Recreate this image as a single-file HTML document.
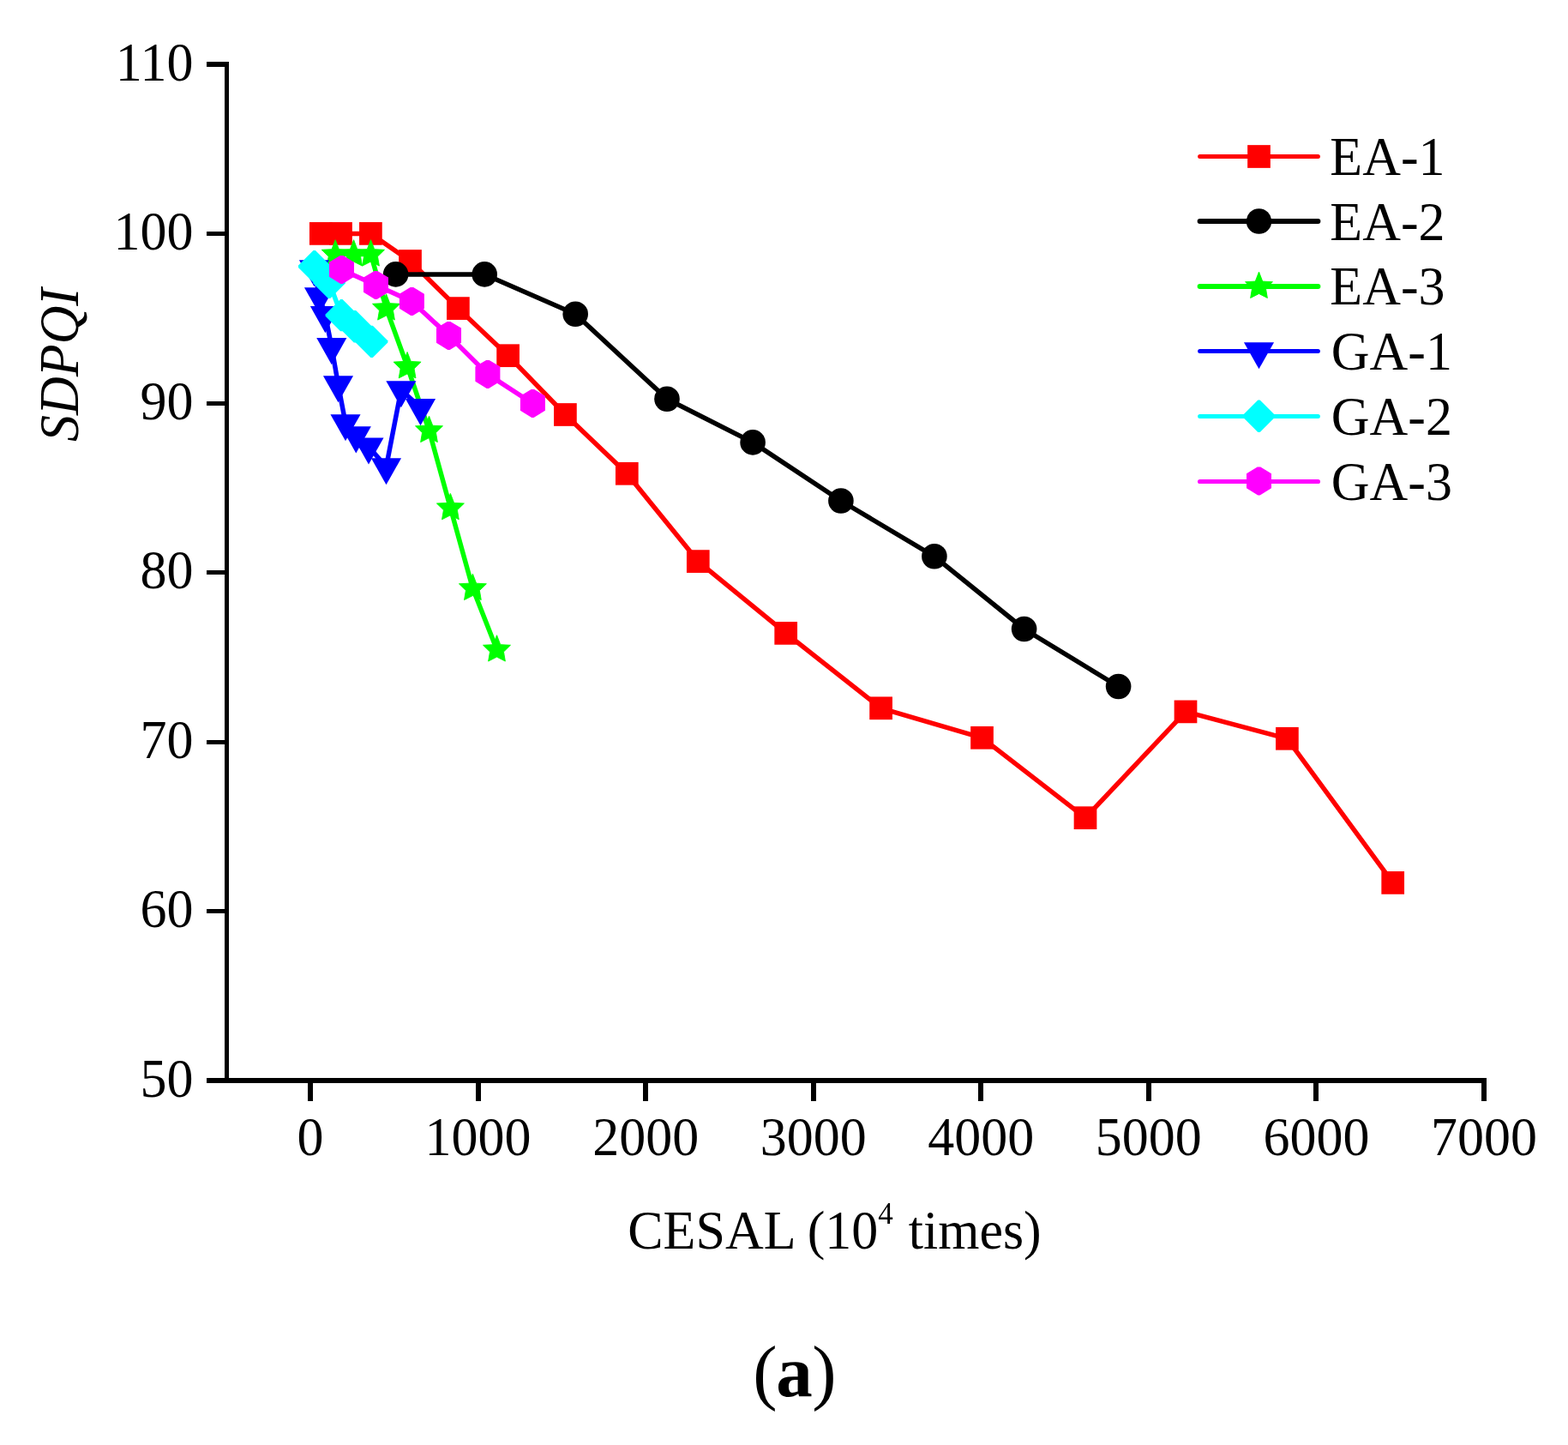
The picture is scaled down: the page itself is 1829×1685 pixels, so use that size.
<!DOCTYPE html>
<html><head><meta charset="utf-8"><title>SDPQI vs CESAL</title>
<style>html,body{margin:0;padding:0;background:#fff;}body{width:1829px;height:1685px;overflow:hidden;}svg{display:block;}</style>
</head><body>
<svg width="1829" height="1685" viewBox="0 0 1829 1685">
<rect width="1829" height="1685" fill="#fff"/>
<g fill="#000">
<rect x="262" y="72" width="5" height="1191"/>
<rect x="241" y="1257" width="1493" height="6"/>
<rect x="241" y="72" width="21" height="6"/>
<rect x="241" y="270" width="21" height="5"/>
<rect x="241" y="468" width="21" height="5"/>
<rect x="241" y="665" width="21" height="5"/>
<rect x="241" y="863" width="21" height="5"/>
<rect x="241" y="1060" width="21" height="5"/>
<rect x="359" y="1263" width="6" height="21"/>
<rect x="555" y="1263" width="6" height="21"/>
<rect x="750" y="1263" width="6" height="21"/>
<rect x="946" y="1263" width="6" height="21"/>
<rect x="1141" y="1263" width="6" height="21"/>
<rect x="1337" y="1263" width="6" height="21"/>
<rect x="1532" y="1263" width="6" height="21"/>
<rect x="1728" y="1263" width="6" height="21"/>
</g>
<g font-family="'Liberation Serif','Times New Roman',serif" font-size="62" fill="#000">
<text transform="translate(225.5,93.5) scale(1,1.035)" text-anchor="end">110</text>
<text transform="translate(225.5,291) scale(1,1.035)" text-anchor="end">100</text>
<text transform="translate(225.5,488.5) scale(1,1.035)" text-anchor="end">90</text>
<text transform="translate(225.5,686) scale(1,1.035)" text-anchor="end">80</text>
<text transform="translate(225.5,883.5) scale(1,1.035)" text-anchor="end">70</text>
<text transform="translate(225.5,1081) scale(1,1.035)" text-anchor="end">60</text>
<text transform="translate(225.5,1278.5) scale(1,1.035)" text-anchor="end">50</text>
<text transform="translate(362,1347) scale(1,1.035)" text-anchor="middle">0</text>
<text transform="translate(557.57,1347) scale(1,1.035)" text-anchor="middle">1000</text>
<text transform="translate(753.14,1347) scale(1,1.035)" text-anchor="middle">2000</text>
<text transform="translate(948.71,1347) scale(1,1.035)" text-anchor="middle">3000</text>
<text transform="translate(1144.28,1347) scale(1,1.035)" text-anchor="middle">4000</text>
<text transform="translate(1339.85,1347) scale(1,1.035)" text-anchor="middle">5000</text>
<text transform="translate(1535.42,1347) scale(1,1.035)" text-anchor="middle">6000</text>
<text transform="translate(1730.99,1347) scale(1,1.035)" text-anchor="middle">7000</text>
<text transform="translate(732.2,1456.1) scale(1,1.035)">CESAL (10<tspan font-size="35" dy="-28.6">4</tspan><tspan dx="2.5" dy="28.6"> times)</tspan></text>
<text transform="translate(90.7,425.5) rotate(-90) scale(1,1.05)" text-anchor="middle" font-style="italic">SDPQI</text>
<text y="1628" font-size="85"><tspan x="878.2">(</tspan><tspan x="905.2" font-weight="bold">a</tspan><tspan x="947.2">)</tspan></text>
<text transform="translate(1551.3,204) scale(1,1.035)">EA-1</text>
<text transform="translate(1551.3,279.5) scale(1,1.035)">EA-2</text>
<text transform="translate(1551.3,355.4) scale(1,1.035)">EA-3</text>
<text transform="translate(1552.8,431) scale(1,1.035)">GA-1</text>
<text transform="translate(1552.8,506.8) scale(1,1.035)">GA-2</text>
<text transform="translate(1552.8,582.5) scale(1,1.035)">GA-3</text>
</g>
<polyline points="374.3,272.4 397.5,272.4 432.4,272.4 478.5,304.5 534.4,359.6 592.6,414.7 659.4,483.5 731.3,552.3 814.3,654.6 916.7,738.4 1027.6,825.8 1145.5,860.3 1266,953.7 1383,829.9 1501.4,861.3 1624.7,1029.4" fill="none" stroke="#ff0000" stroke-width="5.5" stroke-linejoin="round" stroke-linecap="round"/>
<rect x="360.95" y="259.05" width="26.7" height="26.7" fill="#ff0000"/><rect x="384.15" y="259.05" width="26.7" height="26.7" fill="#ff0000"/><rect x="419.05" y="259.05" width="26.7" height="26.7" fill="#ff0000"/><rect x="465.15" y="291.15" width="26.7" height="26.7" fill="#ff0000"/><rect x="521.05" y="346.25" width="26.7" height="26.7" fill="#ff0000"/><rect x="579.25" y="401.35" width="26.7" height="26.7" fill="#ff0000"/><rect x="646.05" y="470.15" width="26.7" height="26.7" fill="#ff0000"/><rect x="717.95" y="538.95" width="26.7" height="26.7" fill="#ff0000"/><rect x="800.95" y="641.25" width="26.7" height="26.7" fill="#ff0000"/><rect x="903.35" y="725.05" width="26.7" height="26.7" fill="#ff0000"/><rect x="1014.25" y="812.45" width="26.7" height="26.7" fill="#ff0000"/><rect x="1132.15" y="846.95" width="26.7" height="26.7" fill="#ff0000"/><rect x="1252.65" y="940.35" width="26.7" height="26.7" fill="#ff0000"/><rect x="1369.65" y="816.55" width="26.7" height="26.7" fill="#ff0000"/><rect x="1488.05" y="847.95" width="26.7" height="26.7" fill="#ff0000"/><rect x="1611.35" y="1016.05" width="26.7" height="26.7" fill="#ff0000"/>
<polyline points="461.6,319.9 565.2,319.9 671.2,366.2 778,465.2 878.1,515.9 980.9,584 1089.9,648.8 1194.6,733.5 1304.6,800.5" fill="none" stroke="#000000" stroke-width="5.5" stroke-linejoin="round" stroke-linecap="round"/>
<circle cx="461.6" cy="319.9" r="14.8" fill="#000000"/><circle cx="565.2" cy="319.9" r="14.8" fill="#000000"/><circle cx="671.2" cy="366.2" r="14.8" fill="#000000"/><circle cx="778" cy="465.2" r="14.8" fill="#000000"/><circle cx="878.1" cy="515.9" r="14.8" fill="#000000"/><circle cx="980.9" cy="584" r="14.8" fill="#000000"/><circle cx="1089.9" cy="648.8" r="14.8" fill="#000000"/><circle cx="1194.6" cy="733.5" r="14.8" fill="#000000"/><circle cx="1304.6" cy="800.5" r="14.8" fill="#000000"/>
<polyline points="391.2,296.5 412.6,296.5 432.5,296.5 450.5,359.5 475.1,427.3 500.5,502 525.4,592.2 551.4,686 579.5,757.5" fill="none" stroke="#00ff00" stroke-width="5.5" stroke-linejoin="round" stroke-linecap="round"/>
<polygon points="391.2,279.7 395.43,290.68 407.18,291.31 399.19,299.1 401.07,310.09 391.2,305.1 381.33,310.09 383.21,299.1 375.22,291.31 386.97,290.68" fill="#00ff00" stroke="#00ff00" stroke-width="0.9" stroke-linejoin="round"/><polygon points="412.6,279.7 416.83,290.68 428.58,291.31 420.59,299.1 422.47,310.09 412.6,305.1 402.73,310.09 404.61,299.1 396.62,291.31 408.37,290.68" fill="#00ff00" stroke="#00ff00" stroke-width="0.9" stroke-linejoin="round"/><polygon points="432.5,279.7 436.73,290.68 448.48,291.31 440.49,299.1 442.37,310.09 432.5,305.1 422.63,310.09 424.51,299.1 416.52,291.31 428.27,290.68" fill="#00ff00" stroke="#00ff00" stroke-width="0.9" stroke-linejoin="round"/><polygon points="450.5,342.7 454.73,353.68 466.48,354.31 458.49,362.1 460.37,373.09 450.5,368.1 440.63,373.09 442.51,362.1 434.52,354.31 446.27,353.68" fill="#00ff00" stroke="#00ff00" stroke-width="0.9" stroke-linejoin="round"/><polygon points="475.1,410.5 479.33,421.48 491.08,422.11 483.09,429.9 484.97,440.89 475.1,435.9 465.23,440.89 467.11,429.9 459.12,422.11 470.87,421.48" fill="#00ff00" stroke="#00ff00" stroke-width="0.9" stroke-linejoin="round"/><polygon points="500.5,485.2 504.73,496.18 516.48,496.81 508.49,504.6 510.37,515.59 500.5,510.6 490.63,515.59 492.51,504.6 484.52,496.81 496.27,496.18" fill="#00ff00" stroke="#00ff00" stroke-width="0.9" stroke-linejoin="round"/><polygon points="525.4,575.4 529.63,586.38 541.38,587.01 533.39,594.8 535.27,605.79 525.4,600.8 515.53,605.79 517.41,594.8 509.42,587.01 521.17,586.38" fill="#00ff00" stroke="#00ff00" stroke-width="0.9" stroke-linejoin="round"/><polygon points="551.4,669.2 555.63,680.18 567.38,680.81 559.39,688.6 561.27,699.59 551.4,694.6 541.53,699.59 543.41,688.6 535.42,680.81 547.17,680.18" fill="#00ff00" stroke="#00ff00" stroke-width="0.9" stroke-linejoin="round"/><polygon points="579.5,740.7 583.73,751.68 595.48,752.31 587.49,760.1 589.37,771.09 579.5,766.1 569.63,771.09 571.51,760.1 563.52,752.31 575.27,751.68" fill="#00ff00" stroke="#00ff00" stroke-width="0.9" stroke-linejoin="round"/>
<polyline points="366.5,313.5 372.5,345.6 379.4,367.4 386.8,404.4 394.5,448.6 403,493.5 415.3,507.7 430,520.8 450.5,544.5 467.9,454.6 490.5,475.4" fill="none" stroke="#0000ff" stroke-width="5.5" stroke-linejoin="round" stroke-linecap="round"/>
<polygon points="348.95,303.13 384.05,303.13 366.5,334.23" fill="#0000ff"/><polygon points="354.95,335.23 390.05,335.23 372.5,366.33" fill="#0000ff"/><polygon points="361.85,357.03 396.95,357.03 379.4,388.13" fill="#0000ff"/><polygon points="369.25,394.03 404.35,394.03 386.8,425.13" fill="#0000ff"/><polygon points="376.95,438.23 412.05,438.23 394.5,469.33" fill="#0000ff"/><polygon points="385.45,483.13 420.55,483.13 403,514.23" fill="#0000ff"/><polygon points="397.75,497.33 432.85,497.33 415.3,528.43" fill="#0000ff"/><polygon points="412.45,510.43 447.55,510.43 430,541.53" fill="#0000ff"/><polygon points="432.95,534.13 468.05,534.13 450.5,565.23" fill="#0000ff"/><polygon points="450.35,444.23 485.45,444.23 467.9,475.33" fill="#0000ff"/><polygon points="472.95,465.03 508.05,465.03 490.5,496.13" fill="#0000ff"/>
<polyline points="366.7,310.7 384,329.3 398.3,367.6 414,380.7 433.6,398.4" fill="none" stroke="#00ffff" stroke-width="5.5" stroke-linejoin="round" stroke-linecap="round"/>
<polygon points="365.5,292 367.9,292 385.4,309.5 385.4,311.9 367.9,329.4 365.5,329.4 348,311.9 348,309.5" fill="#00ffff"/><polygon points="382.8,310.6 385.2,310.6 402.7,328.1 402.7,330.5 385.2,348 382.8,348 365.3,330.5 365.3,328.1" fill="#00ffff"/><polygon points="397.1,348.9 399.5,348.9 417,366.4 417,368.8 399.5,386.3 397.1,386.3 379.6,368.8 379.6,366.4" fill="#00ffff"/><polygon points="412.8,362 415.2,362 432.7,379.5 432.7,381.9 415.2,399.4 412.8,399.4 395.3,381.9 395.3,379.5" fill="#00ffff"/><polygon points="432.4,379.7 434.8,379.7 452.3,397.2 452.3,399.6 434.8,417.1 432.4,417.1 414.9,399.6 414.9,397.2" fill="#00ffff"/>
<polyline points="398.5,314.6 438.5,332.4 480.4,351.5 523.5,391.4 568.9,436.4 621.4,470.5" fill="none" stroke="#ff00ff" stroke-width="5.5" stroke-linejoin="round" stroke-linecap="round"/>
<polygon points="396.7,298.1 400.3,298.1 413,305.75 413,322.85 399.7,331.1 397.3,331.1 384,322.85 384,305.75" fill="#ff00ff"/><polygon points="436.7,315.9 440.3,315.9 453,323.55 453,340.65 439.7,348.9 437.3,348.9 424,340.65 424,323.55" fill="#ff00ff"/><polygon points="478.6,335 482.2,335 494.9,342.65 494.9,359.75 481.6,368 479.2,368 465.9,359.75 465.9,342.65" fill="#ff00ff"/><polygon points="521.7,374.9 525.3,374.9 538,382.55 538,399.65 524.7,407.9 522.3,407.9 509,399.65 509,382.55" fill="#ff00ff"/><polygon points="567.1,419.9 570.7,419.9 583.4,427.55 583.4,444.65 570.1,452.9 567.7,452.9 554.4,444.65 554.4,427.55" fill="#ff00ff"/><polygon points="619.6,454 623.2,454 635.9,461.65 635.9,478.75 622.6,487 620.2,487 606.9,478.75 606.9,461.65" fill="#ff00ff"/>
<polyline points="1399.6,182.5 1537.4,182.5" fill="none" stroke="#ff0000" stroke-width="5" stroke-linejoin="round" stroke-linecap="round"/>
<rect x="1455.15" y="169.15" width="26.7" height="26.7" fill="#ff0000"/>
<polyline points="1399.6,258 1537.4,258" fill="none" stroke="#000000" stroke-width="6" stroke-linejoin="round" stroke-linecap="round"/>
<circle cx="1468.5" cy="258" r="14.8" fill="#000000"/>
<polyline points="1399.6,334 1537.4,334" fill="none" stroke="#00ff00" stroke-width="6" stroke-linejoin="round" stroke-linecap="round"/>
<polygon points="1468.5,317.1 1472.73,328.08 1484.48,328.71 1476.49,336.5 1478.37,347.49 1468.5,342.5 1458.63,347.49 1460.51,336.5 1452.52,328.71 1464.27,328.08" fill="#00ff00" stroke="#00ff00" stroke-width="0.9" stroke-linejoin="round"/>
<polyline points="1399.6,409.5 1537.4,409.5" fill="none" stroke="#0000ff" stroke-width="5" stroke-linejoin="round" stroke-linecap="round"/>
<polygon points="1450.95,399.13 1486.05,399.13 1468.5,430.23" fill="#0000ff"/>
<polyline points="1399.6,485.5 1537.4,485.5" fill="none" stroke="#00ffff" stroke-width="5" stroke-linejoin="round" stroke-linecap="round"/>
<polygon points="1467.3,466.6 1469.7,466.6 1487.2,484.1 1487.2,486.5 1469.7,504 1467.3,504 1449.8,486.5 1449.8,484.1" fill="#00ffff"/>
<polyline points="1399.6,561.5 1537.4,561.5" fill="none" stroke="#ff00ff" stroke-width="5.2" stroke-linejoin="round" stroke-linecap="round"/>
<polygon points="1466.7,544.5 1470.3,544.5 1483,552.15 1483,569.25 1469.7,577.5 1467.3,577.5 1454,569.25 1454,552.15" fill="#ff00ff"/>
</svg>
</body></html>
